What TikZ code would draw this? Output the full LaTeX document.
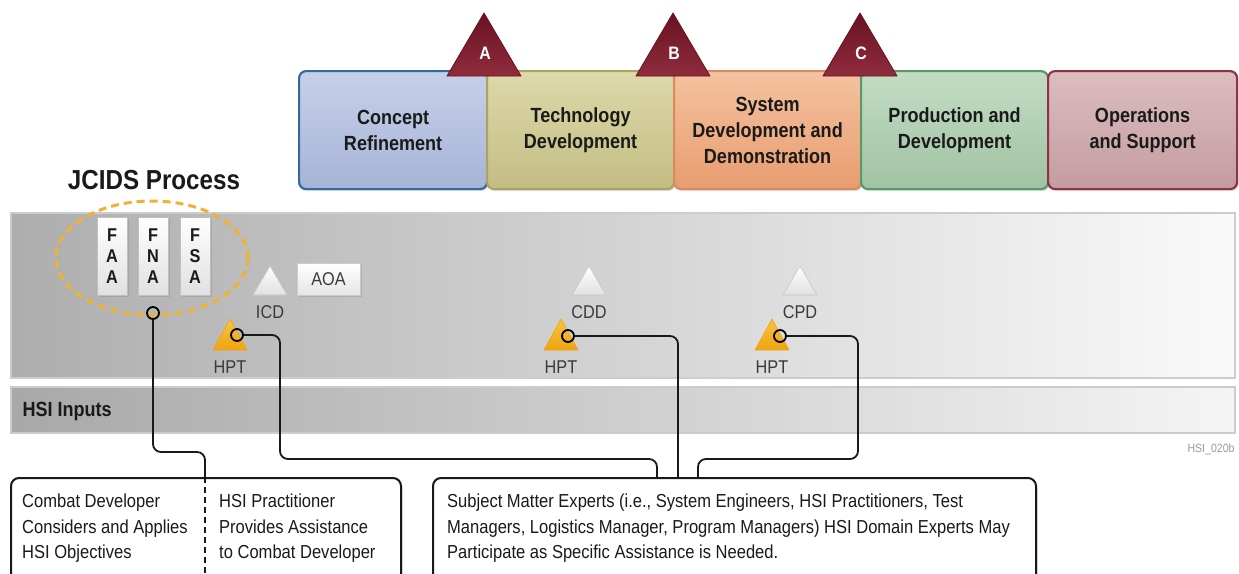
\documentclass[tikz,border=0pt]{standalone}
\usepackage{fontspec}
\setmainfont{Liberation Sans}[FakeStretch=0.88]
\usetikzlibrary{shadows,calc}
\definecolor{txt}{HTML}{1A1A1A}
\definecolor{lbl}{HTML}{3A3A3A}
\definecolor{crT}{HTML}{C6D0E8}\definecolor{crB}{HTML}{A6B4D7}\definecolor{crD}{HTML}{3568A0}
\definecolor{tdT}{HTML}{DDD9AA}\definecolor{tdB}{HTML}{C3BD83}\definecolor{tdD}{HTML}{A9A463}
\definecolor{sdT}{HTML}{F4C3A0}\definecolor{sdB}{HTML}{E89C70}\definecolor{sdD}{HTML}{DB8A5C}
\definecolor{pdT}{HTML}{C3DCC3}\definecolor{pdB}{HTML}{A0C3A3}\definecolor{pdD}{HTML}{5A9868}
\definecolor{osT}{HTML}{DCBDC0}\definecolor{osB}{HTML}{C39CA1}\definecolor{osD}{HTML}{8E3344}
\definecolor{msT}{HTML}{6A1222}\definecolor{msB}{HTML}{8E2C3C}
\definecolor{hpT}{HTML}{F8C440}\definecolor{hpB}{HTML}{EFA410}
\definecolor{ell}{HTML}{F0B232}
\tikzset{
  phase/.style={draw, line width=2.2pt, rounded corners=7pt, minimum height=118pt,
    anchor=north west, font=\bfseries\fontsize{20.5}{26}\selectfont, align=center, text=txt,
    drop shadow={opacity=0.25,shadow xshift=1.5pt,shadow yshift=-2pt}},
  mstone/.style={top color=msT, bottom color=msB, draw=msT, line width=0.8pt, line join=round},
  mletter/.style={text=white, font=\bfseries\fontsize{18}{20}\selectfont},
  doctri/.style={top color=white, bottom color=black!12, draw=black!22, line width=0.6pt, line join=round},
  hpttri/.style={top color=hpT, bottom color=hpB, draw=hpB, line width=0.6pt, line join=round},
  smlbl/.style={text=lbl, font=\fontsize{18.5}{20}\selectfont},
  fbox/.style={draw=black!25, line width=0.8pt, top color=white, bottom color=black!12,
    minimum width=30pt, minimum height=78pt, align=center, inner sep=0pt,
    font=\bfseries\fontsize{18.5}{21}\selectfont, text=txt,
    drop shadow={opacity=0.3,shadow xshift=1.5pt,shadow yshift=-1.5pt}},
  endpt/.style={circle, draw=black, line width=1.8pt, minimum size=12pt, inner sep=0pt},
  conn/.style={draw=black!90, line width=1.8pt, rounded corners=8pt},
  infobox/.style={draw=black!90, line width=2pt, rounded corners=8pt, fill=white, anchor=north west,
    minimum height=130pt, drop shadow={opacity=0.25,shadow xshift=1.5pt,shadow yshift=-2pt}},
  bodytext/.style={anchor=north west, align=left, inner sep=0pt, text=txt, font=\fontsize{18.8}{25.5}\selectfont},
}
\begin{document}
\begin{tikzpicture}[x=1pt,y=-1pt]
\begin{scope}
\clip (0,0) rectangle (1239,573);
\fill[white] (0,0) rectangle (1239,573);

% bands
\shade[left color=black!32, middle color=black!20, right color=black!2, draw=black!20, line width=1.2pt]
  (11,213) rectangle (1235,378);
\shade[left color=black!34, middle color=black!21, right color=black!4, draw=black!20, line width=1.2pt]
  (11,387) rectangle (1235,433);
\node[anchor=west, font=\bfseries\fontsize{20.5}{22}\selectfont, text=txt] (hsi) at (19,411) {HSI Inputs};
\node[text=black!40, font=\fontsize{12}{14}\selectfont] (code) at (1211,449) {HSI\_020b};

% phases
\node[phase, top color=crT, bottom color=crB, draw=crD, minimum width=188pt] (p1) at (298,70) {Concept\\Refinement};
\node[phase, top color=tdT, bottom color=tdB, draw=tdD, minimum width=187pt] (p2) at (486,70) {Technology\\Development};
\node[phase, top color=sdT, bottom color=sdB, draw=sdD, minimum width=187pt] (p3) at (673,70) {System\\Development and\\Demonstration};
\node[phase, top color=pdT, bottom color=pdB, draw=pdD, minimum width=187pt] (p4) at (860,70) {Production and\\Development};
\node[phase, top color=osT, bottom color=osB, draw=osD, minimum width=189pt] (p5) at (1047,70) {Operations\\and Support};

% milestones
\foreach \cx/\l in {484/A, 673/B, 860/C}{
  \path[mstone] (\cx-37,76) -- (\cx,13) -- (\cx+37,76) -- cycle;
  \node[mletter] (ms\l) at (\cx+1,53) {\l};
}

% JCIDS
\node[font=\bfseries\fontsize{27.5}{30}\selectfont, text=txt] (jcids) at (154,180) {JCIDS Process};
\node[fbox] (faa) at (112,256) {F\\A\\A};
\node[fbox] (fna) at (153,256) {F\\N\\A};
\node[fbox] (fsa) at (195,256) {F\\S\\A};
\draw[ell, line width=3pt, dash pattern=on 8pt off 5pt] (152,258) ellipse [x radius=96, y radius=57];

% document triangles
\foreach \cx/\nm in {270/ICD, 589/CDD, 800/CPD}{
  \path[doctri] (\cx-17,295) -- (\cx,266) -- (\cx+17,295) -- cycle;
  \node[smlbl] (l\nm) at (\cx,312) {\nm};
}
\node[draw=black!20, line width=0.8pt, top color=white, bottom color=black!10, minimum width=63pt, minimum height=32pt,
  inner sep=0pt, smlbl, drop shadow={opacity=0.3,shadow xshift=1.5pt,shadow yshift=-1.5pt}] (aoa) at (328.5,279) {AOA};

% HPT triangles
\foreach \cx/\i in {230/1, 561/2, 772/3}{
  \path[hpttri] (\cx-17,350) -- (\cx,319) -- (\cx+17,350) -- cycle;
  \node[smlbl] (hptl\i) at (\cx,367) {HPT};
}
\node[endpt] (c1) at (153,313) {};
\node[endpt] (h1) at (237,335) {};
\node[endpt] (h2) at (568,336) {};
\node[endpt] (h3) at (780,336) {};

% info boxes
\node[infobox, minimum width=390pt] (box1) at (10,477) {};
\node[infobox, minimum width=603pt] (box2) at (432,477) {};
\coordinate (d1) at (205,477);
\coordinate (e1) at (657,477);
\coordinate (e2) at (678,477);
\coordinate (e3) at (698,477);
\draw[black!90, line width=1.8pt, dash pattern=on 6pt off 4pt] (d1) -- (205,580);

\node[bodytext] (t1) at (22,494) {Combat Developer\\Considers and Applies\\HSI Objectives};
\node[bodytext] (t2) at (219,494) {HSI Practitioner\\Provides Assistance\\to Combat Developer};
\node[bodytext] (t3) at (447,494) {Subject Matter Experts (i.e., System Engineers, HSI Practitioners, Test\\Managers, Logistics Manager, Program Managers) HSI Domain Experts May\\Participate as Specific Assistance is Needed.};

% connectors
\draw[conn] (c1.south) -- (153,452) -- (205,452) -- (d1);
\draw[conn] (h1.east) -- (280,335) -- (280,459) -- (657,459) -- (e1);
\draw[conn] (h2.east) -- (678,336) -- (e2);
\draw[conn] (h3.east) -- (858,336) -- (858,459) -- (698,459) -- (e3);
\end{scope}
\pgfresetboundingbox
\useasboundingbox (0,0) rectangle (1239,573);
\end{tikzpicture}
\end{document}
